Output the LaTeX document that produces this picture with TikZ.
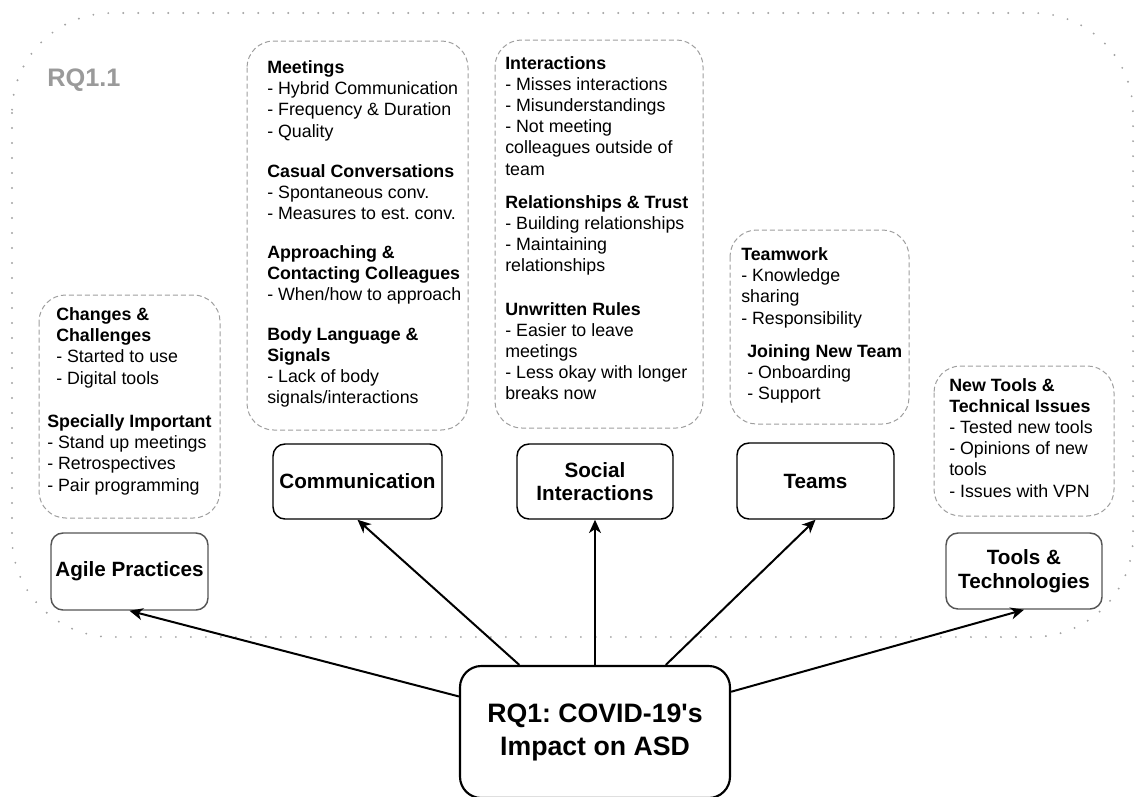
\documentclass[tikz,border=0pt]{standalone}
\usepackage{fontspec}
\setmainfont{Liberation Sans}[Ligatures=TeXOff]
\usetikzlibrary{arrows.meta,calc}

\definecolor{framegray}{HTML}{A3A3A3}
\definecolor{notegray}{HTML}{9E9E9E}
\definecolor{labelgray}{HTML}{9A9A9A}
\definecolor{edgegray}{HTML}{555555}

% stacked lines whose reference point is the baseline of the first line
\newcommand{\itemlines}[1]{\begin{tabular}[t]{@{}l@{}}#1\end{tabular}}

\begin{document}
\frenchspacing
\begin{tikzpicture}[x=0.75pt,y=-0.75pt,
  outerframe/.style={draw=framegray, line width=1.6pt, line cap=round,
    dash pattern=on 0pt off 11.25pt, rounded corners=75pt},
  notebox/.style={draw=notegray, line width=0.75pt,
    dash pattern=on 3.75pt off 2.25pt, rounded corners=20pt},
  bodytext/.style={anchor=base west, inner sep=0pt,
    font=\fontsize{13.35pt}{15.9pt}\selectfont},
  catbox/.style={draw, line width=1.1pt, rounded corners=9pt, align=center,
    inner sep=0pt, font=\fontsize{15.5pt}{17.6pt}\selectfont\bfseries},
  mainbox/.style={draw, line width=1.6pt, rounded corners=16pt, align=center,
    inner sep=0pt, font=\fontsize{20pt}{24.75pt}\selectfont\bfseries},
  conn/.style={line width=1.5pt, -{Stealth[length=10pt,width=9pt,inset=3pt]}}
]
\useasboundingbox (0,0) rectangle (1135,796);

% sub-question frame
\draw[outerframe] (12,13) rectangle (1133,637);
\node[anchor=base west, inner sep=0pt, text=labelgray,
  font=\fontsize{19pt}{22pt}\selectfont\bfseries] (rqlabel) at (47,86) {RQ1.1};

% theme detail notes
\draw[notebox] (39,295) rectangle (220,518);
\node[bodytext] (agileA) at (56,320.5) {\itemlines{\textbf{Changes \&}\\\textbf{Challenges}\\- Started to use\\- Digital tools}};
\node[bodytext] (agileB) at (47,427.5) {\itemlines{\textbf{Specially Important}\\- Stand up meetings\\- Retrospectives\\- Pair programming}};

\draw[notebox] (247,41) rectangle (468,430);
\node[bodytext] (commA) at (267,73.5) {\itemlines{\textbf{Meetings}\\- Hybrid Communication\\- Frequency \& Duration\\- Quality}};
\node[bodytext] (commB) at (267,177) {\itemlines{\textbf{Casual Conversations}\\- Spontaneous conv.\\- Measures to est. conv.}};
\node[bodytext] (commC) at (267,258.5) {\itemlines{\textbf{Approaching \&}\\\textbf{Contacting Colleagues}\\- When/how to approach}};
\node[bodytext] (commD) at (267,340) {\itemlines{\textbf{Body Language \&}\\\textbf{Signals}\\- Lack of body\\signals/interactions}};

\draw[notebox] (495,40) rectangle (703,428);
\node[bodytext] (socA) at (505,69) {\itemlines{\textbf{Interactions}\\- Misses interactions\\- Misunderstandings\\- Not meeting\\colleagues outside of\\team}};
\node[bodytext] (socB) at (505,208) {\itemlines{\textbf{Relationships \& Trust}\\- Building relationships\\- Maintaining\\relationships}};
\node[bodytext] (socC) at (505,315) {\itemlines{\textbf{Unwritten Rules}\\- Easier to leave\\meetings\\- Less okay with longer\\breaks now}};

\draw[notebox] (730,230) rectangle (909,424);
\node[bodytext] (teamA) at (741,260.5) {\itemlines{\textbf{Teamwork}\\- Knowledge\\sharing\\- Responsibility}};
\node[bodytext] (teamB) at (747,357) {\itemlines{\textbf{Joining New Team}\\- Onboarding\\- Support}};

\draw[notebox] (934,366) rectangle (1114,516);
\node[bodytext] (toolA) at (949,391) {\itemlines{\textbf{New Tools \&}\\\textbf{Technical Issues}\\- Tested new tools\\- Opinions of new\\tools\\- Issues with VPN}};

% themes
\node[catbox, draw=edgegray, minimum width=157*0.75pt, minimum height=77*0.75pt] (agile) at (129.5,571.5) {Agile Practices};
\node[catbox, minimum width=169*0.75pt, minimum height=75*0.75pt] (comm) at (357.5,481.5) {Communication};
\node[catbox, minimum width=156*0.75pt, minimum height=75*0.75pt] (social) at (595,481.5) {Social\\Interactions};
\node[catbox, minimum width=157*0.75pt, minimum height=76*0.75pt] (teams) at (815.5,481) {Teams};
\node[catbox, draw=edgegray, minimum width=156*0.75pt, minimum height=76*0.75pt] (tools) at (1024,571) {Tools \&\\Technologies};

% research question
\node[mainbox, minimum width=270*0.75pt, minimum height=132*0.75pt] (main) at (595,732) {RQ1: COVID-19's\\Impact on ASD};

% links from the question to its themes
\draw[conn] ($(main.north west)!0.235!(main.south west)$) -- (agile.south);
\draw[conn] ($(main.north west)!0.222!(main.north east)$) -- (comm.south);
\draw[conn] (main.north) -- (social.south);
\draw[conn] ($(main.north west)!0.76!(main.north east)$) -- (teams.south);
\draw[conn] ($(main.north east)!0.2!(main.south east)$) -- (tools.south);
\end{tikzpicture}
\end{document}
